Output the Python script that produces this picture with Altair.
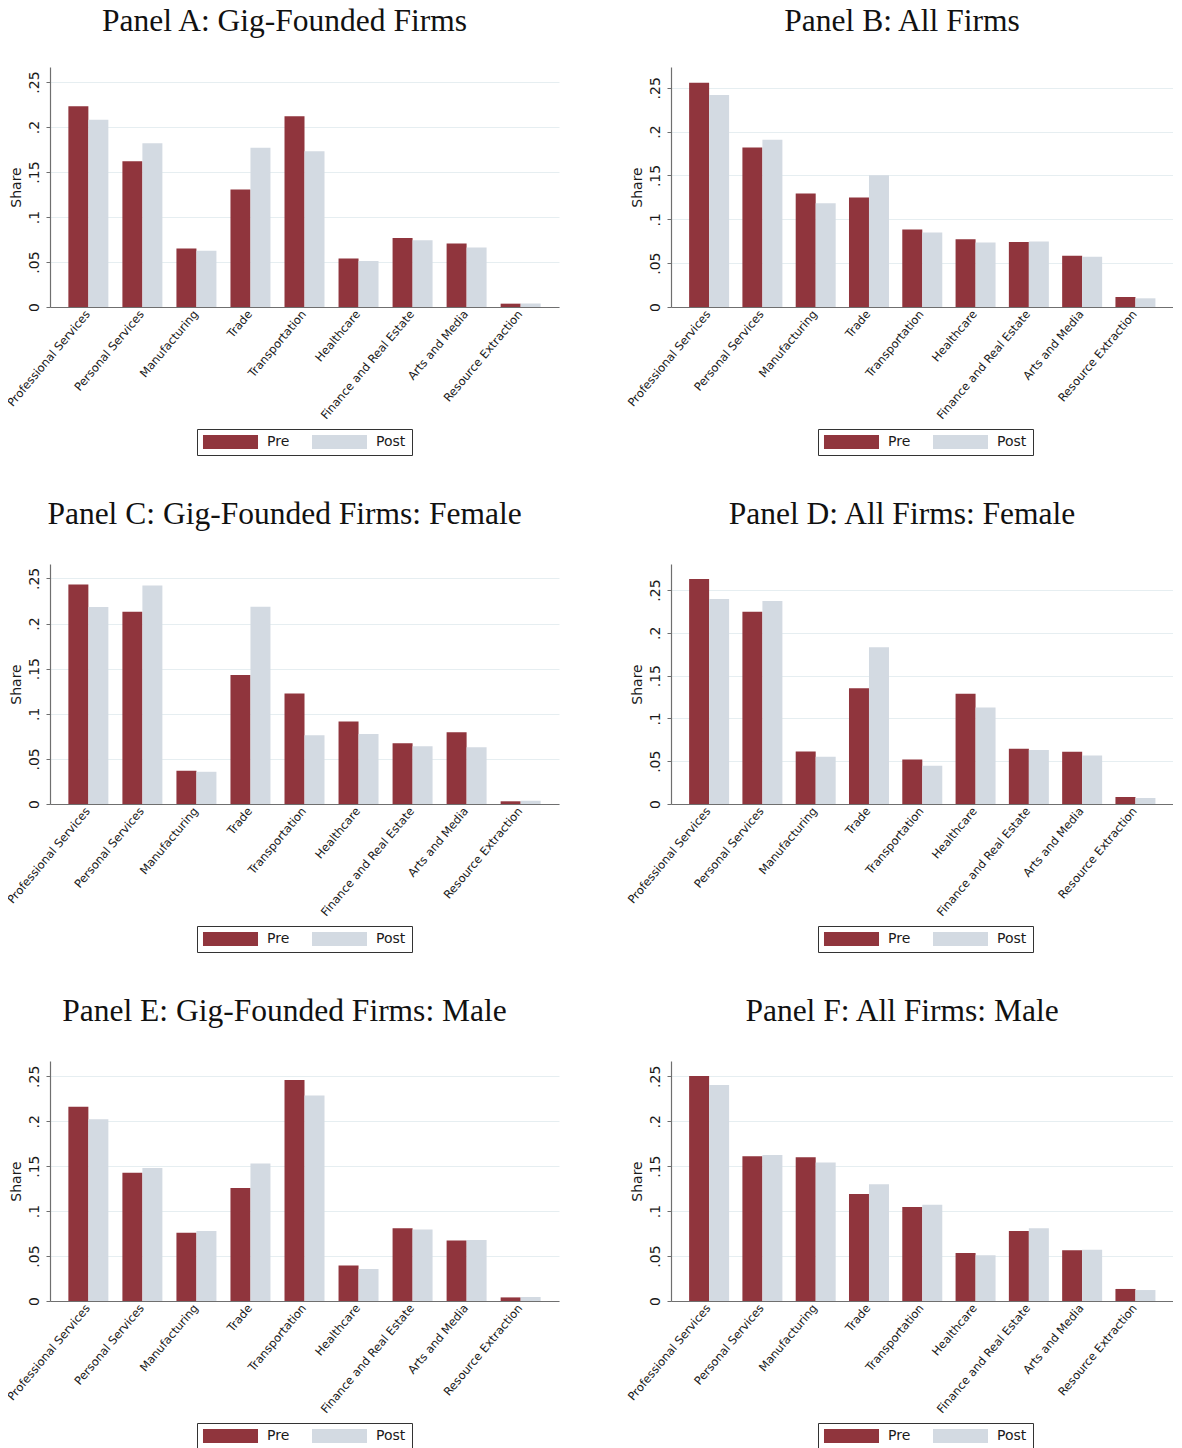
import altair as alt
import pandas as pd

categories = [
    "Professional Services", "Personal Services", "Manufacturing", "Trade",
    "Transportation", "Healthcare", "Finance and Real Estate", "Arts and Media",
    "Resource Extraction",
]
periods = ["Pre", "Post"]

titles = [
    "Panel A: Gig-Founded Firms",
    "Panel B: All Firms",
    "Panel C: Gig-Founded Firms: Female",
    "Panel D: All Firms: Female",
    "Panel E: Gig-Founded Firms: Male",
    "Panel F: All Firms: Male",
]

pre_A = [0.223, 0.162, 0.065, 0.1305, 0.212, 0.054, 0.0766, 0.0706, 0.0037]
post_A = [0.208, 0.182, 0.0625, 0.177, 0.173, 0.051, 0.0743, 0.0662, 0.004]
pre_B = [0.2557, 0.182, 0.1294, 0.1248, 0.0884, 0.0774, 0.074, 0.0584, 0.0114]
post_B = [0.2417, 0.1908, 0.1184, 0.1502, 0.085, 0.0736, 0.0747, 0.0573, 0.0099]
pre_C = [0.2434, 0.2132, 0.0368, 0.1429, 0.1226, 0.0913, 0.0674, 0.0795, 0.003]
post_C = [0.2183, 0.2423, 0.0357, 0.2187, 0.0762, 0.0777, 0.0641, 0.063, 0.0037]
pre_D = [0.2628, 0.2247, 0.0614, 0.1353, 0.0521, 0.1287, 0.0645, 0.061, 0.0082]
post_D = [0.2395, 0.2372, 0.0552, 0.1831, 0.0447, 0.1128, 0.063, 0.0568, 0.007]
pre_E = [0.216, 0.1428, 0.0758, 0.1257, 0.2459, 0.0396, 0.081, 0.0673, 0.004]
post_E = [0.2023, 0.148, 0.078, 0.1531, 0.2285, 0.0355, 0.0795, 0.068, 0.0044]
pre_F = [0.2504, 0.161, 0.16, 0.119, 0.1046, 0.0534, 0.0779, 0.0564, 0.0134]
post_F = [0.2404, 0.1625, 0.154, 0.130, 0.1072, 0.0508, 0.0809, 0.0571, 0.0122]

y_max = [0.2667, 0.2737, 0.266, 0.2804, 0.267, 0.267]
tick_values = [0, 0.05, 0.1, 0.15, 0.2, 0.25]

PRE = "#90353d"
POST = "#d3dae2"
AXIS = "#6f6f6f"
GRID = "#e6eef1"
TXT = "#1a1a1a"


def panel(title, pre, post, ymax, width, title_offset):
    rows = []
    for c, a, b in zip(categories, pre, post):
        rows.append({"industry": c, "period": "Pre", "share": a})
        rows.append({"industry": c, "period": "Post", "share": b})
    df = pd.DataFrame(rows)
    return alt.Chart(df).mark_bar().encode(
        x=alt.X(
            "industry:N", sort=categories,
            scale=alt.Scale(paddingInner=0.26, paddingOuter=0.34),
            axis=alt.Axis(
                title=None, labelAngle=310, labelAlign="right", labelBaseline="middle",
                ticks=False, labelPadding=5, labelFontSize=11.5, labelFont="DejaVu Sans",
                labelColor=TXT, domainColor=AXIS, domainWidth=1.2, labelLimit=0,
                grid=False,
            ),
        ),
        xOffset=alt.XOffset("period:N", sort=periods,
                            scale=alt.Scale(domain=periods, paddingInner=0, paddingOuter=0)),
        y=alt.Y(
            "share:Q",
            scale=alt.Scale(domain=[0, ymax], nice=False, zero=True),
            axis=alt.Axis(
                title="Share", values=tick_values,
                labelExpr="datum.value == 0 ? '0' : replace(format(datum.value, '.2~f'), '0.', '.')",
                labelAngle=270, labelAlign="center", labelBaseline="bottom",
                labelFontSize=14, labelFont="DejaVu Sans", labelColor=TXT, labelPadding=5,
                tickSize=4, tickColor=AXIS, domainColor=AXIS, domainWidth=1.2,
                grid=True, gridColor=GRID, gridWidth=1,
                titleFont="DejaVu Sans", titleFontSize=14, titleFontWeight="normal",
                titleColor=TXT, titlePadding=4,
            ),
        ),
        color=alt.Color(
            "period:N", sort=periods,
            scale=alt.Scale(domain=periods, range=[PRE, POST]),
            legend=alt.Legend(
                orient="none", legendX=147, legendY=362, direction="horizontal",
                title=None, symbolType="M-3.93,-1H3.93V1H-3.93Z", symbolSize=196,
                symbolOffset=20.5, symbolStrokeWidth=0, labelFontSize=14,
                labelFont="DejaVu Sans", labelColor=TXT, labelOffset=29.5,
                columnPadding=21, padding=6,
                strokeColor="#333333", fillColor="white",
            ),
        ),
    ).properties(
        width=width, height=240,
        title=alt.TitleParams(
            title, font="Liberation Serif", fontSize=31.5, fontWeight="normal",
            color="#111111", anchor="middle", dx=-20, offset=title_offset,
        ),
    )


data = [(pre_A, post_A), (pre_B, post_B), (pre_C, post_C),
        (pre_D, post_D), (pre_E, post_E), (pre_F, post_F)]

panels = []
for i, (pre, post) in enumerate(data):
    w = 509 if i % 2 == 0 else 502
    off = 30 if i < 2 else 34
    panels.append(panel(titles[i], pre, post, y_max[i], w, off))

rows = [
    alt.hconcat(panels[2 * r], panels[2 * r + 1], spacing=66)
    .resolve_scale(color="independent", x="independent", y="independent")
    .resolve_legend(color="independent")
    for r in range(3)
]
chart = alt.vconcat(*rows, spacing=42).resolve_scale(
    color="independent", x="independent", y="independent"
).resolve_legend(color="independent").configure_view(stroke=None).properties(
    padding={"left": -3, "top": -3, "right": 0, "bottom": 0}, background="white"
)

chart.save("out.html", embed_options={"renderer": "svg", "actions": False})
